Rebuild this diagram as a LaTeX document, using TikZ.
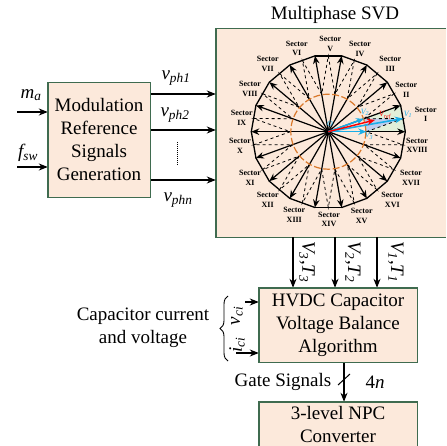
\documentclass[tikz,border=0pt]{standalone}
\usepackage{fontspec}
\setmainfont{Liberation Serif}
\usetikzlibrary{arrows.meta,calc,decorations.pathreplacing}
\definecolor{boxfill}{RGB}{252,233,219}
\definecolor{boxedge}{RGB}{63,107,79}
\definecolor{vecblue}{RGB}{26,174,232}
\definecolor{ringorange}{RGB}{217,120,43}
\definecolor{sectorgreen}{RGB}{226,239,217}
\definecolor{sectorblue}{RGB}{189,205,238}
\newcommand{\symb}[2]{\textit{#1\textsubscript{#2}}}
\tikzset{
   boxback/.style={fill=boxfill},
   boxframe/.style={draw=boxedge,line width=1.4pt},
   block/.style={align=center,inner sep=0pt,font=\fontsize{19}{23}\selectfont},
   freetext/.style={inner sep=0pt,align=center,font=\fontsize{19}{23}\selectfont},
   sig/.style={line width=1.2pt,-{Stealth[length=9pt,width=7pt]}},
   spoke/.style={line width=1.2pt,-{Stealth[length=8pt,width=6.5pt]}},
   bluevec/.style={vecblue,line width=1.6pt,-{Stealth[length=8pt,width=6.5pt]}},
   veclabel/.style={inner sep=0pt,font=\fontsize{8}{8}\selectfont},
   sectorlabel/.style={inner sep=0pt,align=center,font=\fontsize{8}{9.5}\selectfont\bfseries}
}
\begin{document}
\begin{tikzpicture}[x=1pt,y=-1pt]
\useasboundingbox (0,0) rectangle (446,446);
\fill[boxback] (216,29) rectangle (446,237);
% places of the blocks
\node[block,minimum width=102pt,minimum height=114pt] (modgen) at (99,140) {};
\node[block,minimum width=230pt,minimum height=208pt] (svd) at (331,133) {};
\node[block,minimum width=158pt,minimum height=74pt] (hvdc) at (338,325) {};
\node[block,minimum width=158pt,minimum height=44pt] (npc) at (338,424) {};
\node[freetext] (title) at (335,15) {Multiphase SVD};
\path[boxframe] (svd.north east) -- (svd.north west) -- (svd.south west) -- (svd.south east);
% inputs and outputs of the first block
\coordinate (ma) at (17,112);
\coordinate (fsw) at (17,167);
\draw[sig] (ma) -- (ma -| modgen.west);
\draw[sig] (fsw) -- (fsw -| modgen.west);
\node[freetext] (malabel) at (31,95) {\symb{m}{a}};
\node[freetext] (fswlabel) at (28,153) {\symb{f}{sw}};
\foreach \ph/\y in {one/94,two/130,last/180} {
   \coordinate (ph\ph) at (150,\y);
   \draw[sig] (ph\ph) -- (ph\ph -| svd.west);
}
\node[freetext] (vph1) at (176,78) {\symb{v}{ph1}};
\node[freetext] (vph2) at (175,115) {\symb{v}{ph2}};
\node[freetext] (vphn) at (178,200) {\symb{v}{phn}};
\coordinate (dotstop) at (177,142);
\coordinate (dotsbot) at (177,166);
\draw[line width=1pt,densely dotted] (dotstop) -- (dotsbot);
% the polygon
\coordinate (c) at (328.3,131.7);
\foreach \k in {0,...,17} {
   \pgfmathsetmacro{\a}{20*\k}
   \coordinate (p\k) at ($(c)+(-\a:77)$);
   \coordinate (q\k) at ($(c)+(-\a:38)$);
   \coordinate (e\k) at ($(c)+(-\a-10:75.8)$);
}
\fill[sectorgreen] (q0) -- (p0) -- (p1) -- (q1) -- cycle;
\fill[sectorblue] (q0) -- (e0) -- (q1) -- cycle;
\foreach \k [evaluate=\k as \nxt using {int(mod(\k+1,18))}] in {0,...,17} {
   \draw[line width=0.8pt,dashed] (q\k) -- (e\k) -- (q\nxt);
   \draw[line width=1.3pt,line cap=round] (p\k) -- (p\nxt);
   \draw[spoke] (c) -- (p\k);
}
\draw[ringorange,line width=1.2pt,dash pattern=on 7pt off 2.5pt] (c) circle (37.5);
% the vectors of sector I
\coordinate (vref) at (375,120);
\draw[bluevec] (c) -- (q0);
\draw[bluevec] (c) -- (q1);
\draw[bluevec] (c) -- (e0);
\draw[red,line width=1.4pt,-{Stealth[length=8pt,width=6.5pt]}] (c) -- (vref);
\node[veclabel,vecblue] (v1) at (408,114.3) {\symb{V}{1}};
\node[veclabel,vecblue] (v2) at (365,112.7) {\symb{V}{2}};
\node[veclabel,vecblue] (v3) at (369,136) {\symb{V}{3}};
\node[veclabel,red] (vreflabel) at (385,115.7) {\symb{V}{ref}};
\node[veclabel,vecblue] (o) at (330,124) {\textit{O}};
% sector names
\foreach \s/\x/\y in {I/425.7/114.3,II/406.3/90,III/390.3/64,IV/360/49,V/330.3/44,VI/296.7/48.3,
   VII/267.7/64,VIII/250/89,IX/241.7/117.7,X/240/146,XI/250/178,XII/267.7/200,
   XIII/294.3/215,XIV/329/219.3,XV/361.7/215.7,XVI/392.3/200,XVII/411/178,XVIII/417/145.3} {
   \node[sectorlabel] (sec\s) at (\x,\y) {Sector\\\s};
}
% down to the balance block
\foreach \i/\x/\lx in {3/293/307,2/335/353,1/377/396} {
   \coordinate (col\i) at (\x,260);
   \draw[sig] (col\i |- svd.south) -- (col\i |- hvdc.north);
   \node[freetext,rotate=-90] (vt\i) at (\lx,262) {\symb{V}{\i},\symb{T}{\i}};
}
% capacitor measurements
\coordinate (vin) at (245,302);
\coordinate (iin) at (236,353);
\draw[sig] (vin) -- (vin -| hvdc.west);
\draw[sig] (iin) -- (iin -| hvdc.west);
\node[freetext,rotate=90] (vci) at (237,316) {\symb{v}{ci}};
\node[freetext,rotate=90] (ici) at (237,345) {\symb{i}{ci}};
\coordinate (bracelow) at (228,361);
\coordinate (bracehigh) at (228,296);
\draw[line width=0.9pt,decorate,decoration={brace,amplitude=8pt}] (bracelow) -- (bracehigh);
\node[freetext] (caplabel) at (143,328) {Capacitor current\\and voltage};
% gate signals
\coordinate (gatecol) at (344,380);
\coordinate (ticka) at (338,385);
\coordinate (tickb) at (350,374);
\draw[sig] (gatecol |- hvdc.south) -- (gatecol |- npc.north);
\draw[line width=1pt] (ticka) -- (tickb);
\node[freetext] (gatelabel) at (283,382) {Gate Signals};
\node[freetext] (gatecount) at (375,382) {4\textit{n}};
% the other blocks, on top
\fill[boxback] (modgen.north west) rectangle (modgen.south east);
\fill[boxback] (hvdc.north west) rectangle (hvdc.south east);
\fill[boxback] (npc.north west) rectangle (npc.south east);
\path[boxframe] (modgen.north west) rectangle (modgen.south east);
\path[boxframe] (hvdc.north west) rectangle (hvdc.south east);
\path[boxframe] (npc.south west) -- (npc.north west) -- (npc.north east) -- (npc.south east);
\node[block] (modtext) at (modgen.center) {Modulation\\Reference\\Signals\\Generation};
\node[block] (hvdctext) at (hvdc.center) {HVDC Capacitor\\Voltage Balance\\Algorithm};
\node[block] (npctext) at (npc.center) {3-level NPC\\Converter};
\end{tikzpicture}
\end{document}
